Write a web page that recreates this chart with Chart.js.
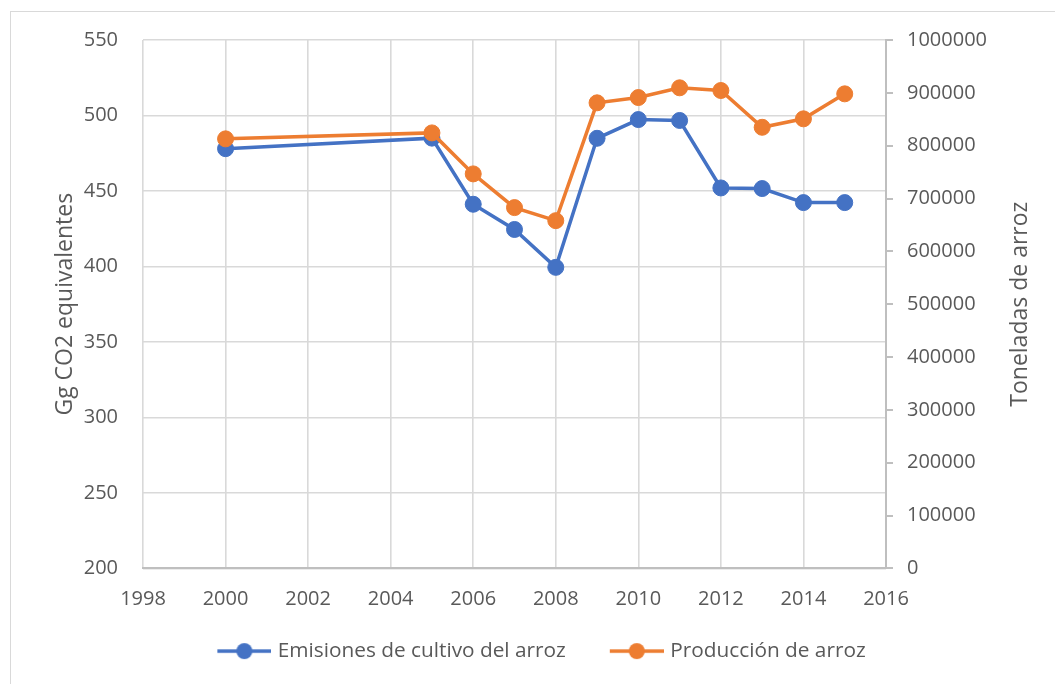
<!DOCTYPE html>
<html>
<head>
<meta charset="utf-8">
<script src="https://cdn.jsdelivr.net/npm/chart.js@4"></script>
<style>
html,body{margin:0;padding:0;background:#fff;}
#wrap{width:1055px;height:684px;position:relative;}
</style>
</head>
<body>
<div id="wrap"><canvas id="c" width="1055" height="684"></canvas></div>
<script>
const years = [2000, 2005, 2006, 2007, 2008, 2009, 2010, 2011, 2012, 2013, 2014, 2015];
const emisiones = [478, 485, 441.2, 424.5, 399.4, 484.9, 497.3, 496.7, 452, 451.6, 442.3, 442.3];
const produccion = [812900, 824200, 746600, 682800, 658100, 881100, 891100, 909500, 904400, 834800, 850800, 898100];
const seriesNames = ['Emisiones de cultivo del arroz', 'Producción de arroz'];
const leftTitle = 'Gg CO2 equivalentes';
const rightTitle = 'Toneladas de arroz';
const xRange = [1998, 2016, 2];
const leftRange = [200, 550, 50];
const rightRange = [0, 1000000, 100000];

const BLUE = '#4472C4', ORANGE = '#ED7D31', TXT = '#595959';
const FONT = '"Open Sans", sans-serif';
const FS = 20, LFS = 20.8, TFS = 23;

function legendImg(color) {
  const c = document.createElement('canvas');
  c.width = 96; c.height = 18;
  const g = c.getContext('2d');
  g.strokeStyle = color; g.lineWidth = 3.5;
  g.beginPath(); g.moveTo(42, 9); g.lineTo(96, 9); g.stroke();
  g.fillStyle = color;
  g.beginPath(); g.arc(69, 9, 8, 0, Math.PI * 2); g.fill();
  return c;
}
const legendImgs = [legendImg(BLUE), legendImg(ORANGE)];

const borderPlugin = {
  id: 'outerBorder',
  afterLayout(chart) {
    if (chart.legend) { chart.legend.left -= 5; chart.legend.right -= 5; }
  },
  beforeDraw(chart) {
    const ctx = chart.ctx;
    ctx.save();
    ctx.strokeStyle = '#d9d9d9';
    ctx.lineWidth = 1;
    ctx.strokeRect(10.5, 11.5, 1200, 800);
    ctx.restore();
  }
};
const rightTitlePlugin = {
  id: 'rightTitle',
  afterDraw(chart) {
    const ctx = chart.ctx, a = chart.chartArea;
    ctx.save();
    ctx.translate(1020, (a.top + a.bottom) / 2);
    ctx.rotate(-Math.PI / 2);
    ctx.font = TFS + 'px ' + FONT;
    ctx.fillStyle = TXT;
    ctx.textAlign = 'center';
    ctx.textBaseline = 'middle';
    ctx.fillText(rightTitle, 0, 0);
    ctx.restore();
  }
};

new Chart(document.getElementById('c'), {
  type: 'line',
  data: {
    datasets: [
      {
        label: seriesNames[0],
        data: years.map((y, i) => ({x: y, y: emisiones[i]})),
        yAxisID: 'y',
        borderColor: BLUE, backgroundColor: BLUE,
        pointBackgroundColor: BLUE, pointBorderColor: BLUE,
        borderWidth: 3.5, pointRadius: 8, pointBorderWidth: 1,
        tension: 0, order: 2
      },
      {
        label: seriesNames[1],
        data: years.map((y, i) => ({x: y, y: produccion[i]})),
        yAxisID: 'y2',
        borderColor: ORANGE, backgroundColor: ORANGE,
        pointBackgroundColor: ORANGE, pointBorderColor: ORANGE,
        borderWidth: 3.5, pointRadius: 8, pointBorderWidth: 1,
        tension: 0, order: 1
      }
    ]
  },
  options: {
    responsive: false,
    animation: false,
    devicePixelRatio: 1,
    layout: {padding: {top: 40, left: 0, right: 0, bottom: 12.5}},
    plugins: {
      tooltip: {enabled: false},
      legend: {
        position: 'bottom',
        labels: {
          usePointStyle: true,
          pointStyleWidth: 88,
          boxHeight: LFS,
          padding: 6,
          color: TXT,
          font: {family: FONT, size: LFS},
          sort: (a, b) => a.datasetIndex - b.datasetIndex,
          generateLabels(chart) {
            const items = Chart.defaults.plugins.legend.labels.generateLabels(chart);
            items.forEach(it => { it.pointStyle = legendImgs[it.datasetIndex]; });
            return items;
          }
        }
      }
    },
    scales: {
      x: {
        type: 'linear',
        min: xRange[0], max: xRange[1],
        ticks: {stepSize: xRange[2], padding: 19, color: TXT, font: {family: FONT, size: FS},
                callback: v => String(v)},
        grid: {color: '#d9d9d9', lineWidth: 1.6, drawTicks: false},
        border: {display: true, color: '#bfbfbf', width: 2},
        afterFit(s) { s.height = 66.3; }
      },
      y: {
        type: 'linear', position: 'left',
        min: leftRange[0], max: leftRange[1],
        ticks: {stepSize: leftRange[2], padding: 25, color: TXT, font: {family: FONT, size: FS}},
        grid: {color: '#d9d9d9', lineWidth: 1.6, drawTicks: false},
        border: {display: false},
        title: {display: true, text: leftTitle, color: TXT, font: {family: FONT, size: TFS},
                padding: {top: 51.2, bottom: 0}},
        afterFit(s) { s.width = 143; }
      },
      y2: {
        type: 'linear', position: 'right',
        min: rightRange[0], max: rightRange[1],
        ticks: {stepSize: rightRange[2], padding: 14, color: TXT, font: {family: FONT, size: FS},
                callback: v => String(v)},
        grid: {drawOnChartArea: false, drawTicks: true, tickLength: 7, color: '#bfbfbf', lineWidth: 2},
        border: {display: true, color: '#bfbfbf', width: 2},
        afterFit(s) { s.width = 169; }
      }
    }
  },
  plugins: [borderPlugin, rightTitlePlugin]
});
</script>
</body>
</html>
